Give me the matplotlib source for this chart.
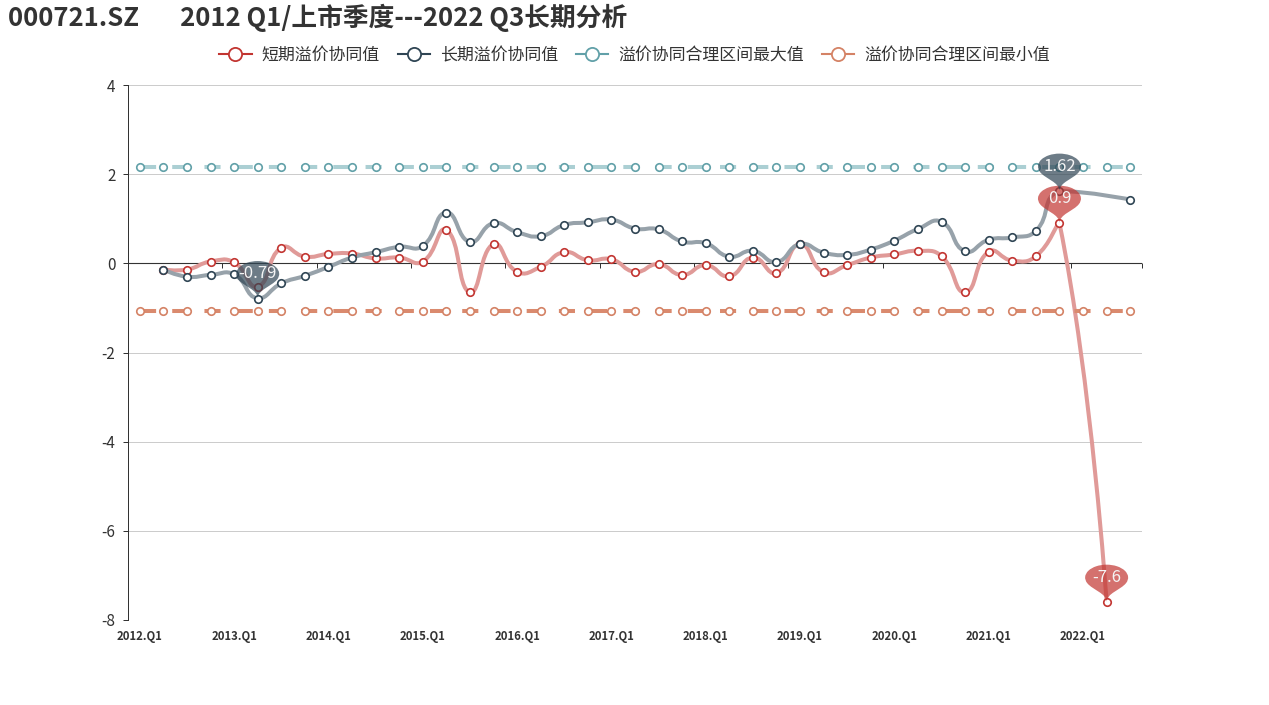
import numpy as np
import matplotlib
matplotlib.use('Agg')
import matplotlib.pyplot as plt
import matplotlib.transforms as mtransforms
from matplotlib.path import Path
from matplotlib.patches import PathPatch
from matplotlib.lines import Line2D

plt.rcParams['font.family'] = ['Noto Sans CJK SC', 'DejaVu Sans']
plt.rcParams['axes.unicode_minus'] = False

nan = np.nan

title = '000721.SZ       2012 Q1/上市季度---2022 Q3长期分析'
quarters = [f'{y}.Q{q}' for y in range(2012, 2023) for q in range(1, 5)][:43]
series_names = ['短期溢价协同值', '长期溢价协同值', '溢价协同合理区间最大值', '溢价协同合理区间最小值']
colors = ['#c23531', '#2f4554', '#61a0a8', '#d48265']
line_colors = ['#e09a98', '#97a2aa', '#abcfd3', '#da8a6e']

short_term = [nan, -0.14, -0.14, 0.04, 0.02, -0.52, 0.35, 0.15, 0.21, 0.22,
              0.11, 0.13, 0.04, 0.75, -0.65, 0.43, -0.19, -0.08, 0.25, 0.07,
              0.09, -0.19, -0.02, -0.26, -0.04, -0.29, 0.13, -0.22, 0.43, -0.20,
              -0.04, 0.13, 0.20, 0.28, 0.16, -0.65, 0.26, 0.06, 0.16, 0.90,
              nan, -7.60, nan]
long_term = [nan, -0.14, -0.30, -0.26, -0.25, -0.79, -0.45, -0.28, -0.08, 0.13,
             0.25, 0.37, 0.39, 1.14, 0.48, 0.90, 0.70, 0.61, 0.86, 0.92,
             0.98, 0.78, 0.76, 0.49, 0.45, 0.15, 0.28, 0.03, 0.43, 0.24,
             0.19, 0.31, 0.51, 0.77, 0.93, 0.27, 0.53, 0.58, 0.73, 1.62,
             nan, nan, 1.43]
upper_bound = [2.15] * len(quarters)
lower_bound = [-1.06] * len(quarters)

W, H = 1269, 705
fig = plt.figure(figsize=(W / 100, H / 100), dpi=100)
ax = fig.add_axes([128 / W, 1 - 620 / H, (1142 - 128) / W, (620 - 85) / H])
n = len(quarters)
ax.set_xlim(-0.5, n - 0.5)
ax.set_ylim(-8, 4)
ax.autoscale(False)

# pixel size of one data unit, smoothing is done in pixel space like echarts
p0 = ax.transData.transform((0, 0))
p1 = ax.transData.transform((1, 1))
sx, sy = abs(p1[0] - p0[0]), abs(p1[1] - p0[1])


def smooth_path(xs, ys, smooth=0.5):
    # echarts 4 style smoothing, control points kept inside the bounding box
    P = np.column_stack([np.asarray(xs) * sx, np.asarray(ys) * sy]).astype(float)
    lo, hi = P.min(axis=0), P.max(axis=0)
    verts, codes = [P[0]], [Path.MOVETO]
    cp0 = P[0].copy()
    for i in range(1, len(P)):
        p = P[i]
        if i == len(P) - 1:
            cp1 = p.copy()
            v = np.zeros(2)
            r = 0.5
        else:
            v = P[i + 1] - P[i - 1]
            lp = np.hypot(*(p - P[i - 1]))
            ln = np.hypot(*(P[i + 1] - p))
            r = ln / (ln + lp)
            cp1 = p - v * smooth * (1 - r)
        verts += [np.clip(cp0, lo, hi), np.clip(cp1, lo, hi), p]
        codes += [Path.CURVE4] * 3
        cp0 = p + v * smooth * r
    return Path(np.array(verts) / [sx, sy], codes)


def pin_shape():
    # echarts 'pin' symbol, tip at origin, in pixels, flattened to 43 x 37.5
    r, h = 15.0, 50.0
    dy = r * r / (h - r)
    cy = h - r - dy
    a = np.arcsin(dy / r)
    dx = np.cos(a) * r
    tx, ty = np.sin(a), np.cos(a)
    c1, c2 = r * 0.6, r * 0.7
    arc = Path.arc(-np.degrees(a), 180 + np.degrees(a))
    verts = list(arc.vertices * r + [0, cy])
    codes = list(arc.codes)
    verts += [(-dx + tx * c1, cy - dy - ty * c1), (0, c2), (0, 0),
              (0, c2), (dx - tx * c1, cy - dy - ty * c1), (dx, cy - dy), (0, 0)]
    codes += [Path.CURVE4] * 6 + [Path.CLOSEPOLY]
    kx, ky = 43 / (2 * r), 37.5 / (cy + r)
    return Path(verts, codes), cy * ky, kx, ky


pin, pin_center, kx, ky = pin_shape()

x = np.arange(n)
ax.axhline(0, color='#333333', lw=0.8, zorder=1.5)

for vals, col, lcol in [(short_term, colors[0], line_colors[0]),
                        (long_term, colors[1], line_colors[1])]:
    v = np.array(vals, dtype=float)
    ok = ~np.isnan(v)
    ax.add_patch(PathPatch(smooth_path(x[ok], v[ok]), fill=False, edgecolor=lcol,
                           lw=2.9, zorder=2, capstyle='round', joinstyle='round'))
    ax.plot(x[ok], v[ok], ls='none', marker='o', ms=5.4, mfc='white', mec=col,
            mew=1.2, zorder=3)

for vals, col, lcol in [(upper_bound, colors[2], line_colors[2]),
                        (lower_bound, colors[3], line_colors[3])]:
    ax.plot(x, vals, color=lcol, lw=2.9, dashes=(4, 4), zorder=2)
    ax.plot(x, vals, ls='none', marker='o', ms=5.4, mfc='white', mec=col,
            mew=1.2, zorder=3)

# mark points (max / min) for the two main series
for vals, col in [(short_term, colors[0]), (long_term, colors[1])]:
    v = np.array(vals, dtype=float)
    for idx in [np.nanargmax(v), np.nanargmin(v)]:
        tr = (mtransforms.Affine2D().scale(kx / 100, ky / 100) + fig.dpi_scale_trans
              + mtransforms.ScaledTranslation(x[idx], v[idx], ax.transData))
        ax.add_patch(PathPatch(pin, transform=tr, facecolor=col, edgecolor='none',
                               alpha=0.7, zorder=4))
        ax.annotate(f'{v[idx]:g}', xy=(x[idx], v[idx]), xytext=(0, pin_center * 0.72),
                    textcoords='offset points', ha='center', va='center',
                    color='#f4f4f4', fontsize=12, zorder=5)

ax.set_xlim(-0.5, n - 0.5)
ax.set_ylim(-8, 4)

ax.set_yticks(range(-8, 5, 2))
ax.tick_params(axis='y', length=3.6, width=0.72, color='#333', labelcolor='#333',
               labelsize=11, pad=5.5)
ax.set_xticks(x[::4])
ax.set_xticklabels(quarters[::4], fontweight='bold', fontsize=8.2)
ax.tick_params(axis='x', length=0, pad=7, labelcolor='#333')
ax.grid(axis='y', color='#cccccc', lw=0.72)
ax.set_axisbelow(True)
for s in ['top', 'right', 'bottom']:
    ax.spines[s].set_visible(False)
ax.spines['left'].set_color('#333')
ax.spines['left'].set_linewidth(0.72)

# category axis ticks at y = 0, on band boundaries
sec = ax.secondary_xaxis(0, transform=ax.transData)
bounds = list(np.arange(-0.5, n, 4)) + [n - 0.5]
sec.set_xticks(bounds)
sec.tick_params(axis='x', length=3.6, width=0.72, color='#333', direction='out',
                labelbottom=False, labeltop=False)
for s in sec.spines.values():
    s.set_visible(False)

handles = [Line2D([], [], color=c, lw=1.5, marker='o', ms=9.5, mfc='white', mec=c, mew=1.3)
           for c in colors]
fig.legend(handles, series_names, loc='center', bbox_to_anchor=(0.5, 1 - 55 / H), ncol=4,
           frameon=False, handlelength=1.9, handletextpad=0.6, columnspacing=1.05,
           fontsize=12.2, labelcolor='#333')

fig.text(8 / W, 1 - 18 / H, title, fontsize=18.5, fontweight='bold', ha='left',
         va='center', color='#333')

fig.savefig('out.png', dpi=100)
